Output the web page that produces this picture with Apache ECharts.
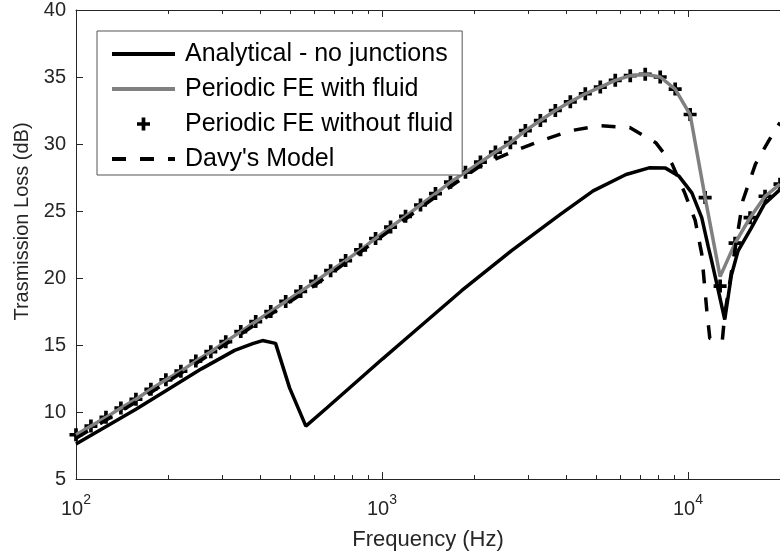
<!DOCTYPE html>
<html>
<head>
<meta charset="utf-8">
<script src="https://cdn.jsdelivr.net/npm/echarts@6/dist/echarts.min.js"></script>
<style>
  html, body { margin: 0; padding: 0; background: #fff; }
  #chart { width: 780px; height: 556px; }
</style>
</head>
<body>
<div id="chart"></div>
<script>
// frequency grid of the periodic FE results (Hz)
const feFreq = [100, 111.9, 125.3, 140.2, 157.0, 175.7, 196.7, 220.2, 246.4, 275.8,
  308.7, 345.6, 386.7, 433.0, 484.6, 542.4, 607.1, 679.6, 760.7, 851.5,
  953.1, 1066.9, 1194.2, 1336.7, 1496.2, 1674.8, 1874.7, 2098.4, 2348.9, 2629.2,
  2943.0, 3294.3, 3687.4, 4127.5, 4620.2, 5171.5, 5788.8, 6479.7, 7253.0, 8118.6,
  9087.5, 10169, 11385, 12743, 14264, 15966, 17872, 20000];
const feFluidTL = [8.3, 8.95, 9.6, 10.3, 10.95, 11.7, 12.4, 13.05, 13.8, 14.5,
  15.25, 16.0, 16.75, 17.5, 18.25, 19.0, 19.75, 20.55, 21.3, 22.1,
  22.95, 23.8, 24.6, 25.45, 26.3, 27.15, 27.9, 28.65, 29.4, 30.1,
  31.0, 31.75, 32.5, 33.15, 33.75, 34.25, 34.75, 35.1, 35.2, 35.0,
  34.1, 32.2, 26.0, 20.1, 22.6, 24.5, 26.1, 27.0];
const feDryTL = [8.3, 8.95, 9.6, 10.3, 10.95, 11.7, 12.4, 13.05, 13.8, 14.5,
  15.25, 16.0, 16.75, 17.5, 18.25, 19.0, 19.75, 20.55, 21.3, 22.1,
  22.95, 23.8, 24.6, 25.45, 26.3, 27.15, 27.9, 28.65, 29.4, 30.1,
  31.0, 31.75, 32.5, 33.15, 33.75, 34.25, 34.75, 35.1, 35.2, 35.0,
  34.1, 32.2, 26.0, 19.4, 22.6, 24.5, 26.1, 27.0];

const analyticalFreq = [100, 157, 201, 257, 330, 378, 407, 449, 499, 564,
  660, 1005, 1195, 1821, 2640, 3828, 4901, 6278, 7468, 8451,
  9333, 10302, 11097, 11665, 11951, 12562, 13196, 13870, 14574, 16087,
  17755, 20000];
const analyticalTL = [7.62, 10.2, 11.72, 13.22, 14.6, 15.1, 15.33, 15.12, 11.8, 8.95,
  10.3, 13.97, 15.45, 19.05, 22.0, 24.75, 26.5, 27.72, 28.22, 28.2,
  27.62, 26.35, 24.5, 22.3, 21.3, 19.1, 16.9, 20.2, 22.0, 23.7,
  25.5, 26.6];

const davyFreq = [100, 157, 246, 387, 607, 951, 1496, 2104, 2640, 3301,
  4128, 5162, 6455, 7852, 8882, 9784, 10563, 11097, 11527, 11792,
  12338, 12948, 13196, 14223, 15132, 16627, 18323, 20000];
const davyTL = [8.05, 10.75, 13.6, 16.55, 19.5, 22.75, 26.05, 28.4, 29.37, 30.24,
  30.99, 31.36, 31.23, 30.1, 28.5, 26.3, 24.3, 21.8, 17.6, 15.5,
  15.35, 15.25, 17.3, 22.0, 25.8, 28.5, 30.2, 31.6];

const seriesNames = ['Analytical - no junctions', 'Periodic FE with fluid',
  'Periodic FE without fluid', "Davy's Model"];

const xMajorTicks = [100, 1000, 10000];
const xMinorTicks = [200, 300, 400, 500, 600, 700, 800, 900,
  2000, 3000, 4000, 5000, 6000, 7000, 8000, 9000, 20000];

const zip = (xs, ys) => xs.map((x, i) => [x, ys[i]]);

const axisColor = '#262626';
const font = '"Liberation Sans", Arial, Helvetica, sans-serif';
const plusPath = 'path://M-1.7,-6H1.7V-1.7H6V1.7H1.7V6H-1.7V1.7H-6V-1.7H-1.7Z';

const baseX = { type: 'log', logBase: 10, min: 100, max: 20000, splitLine: { show: false } };

const chart = echarts.init(document.getElementById('chart'));

// line series get no dot in the legend, only their stroke
const legendData = seriesNames.map((name, i) =>
  i === 2 ? { name } : { name, itemStyle: { opacity: 0 } });

const option = {
  animation: false,
  textStyle: { fontFamily: font },
  grid: { left: 76, top: 9, right: -9, bottom: 77, containLabel: false },
  legend: {
    data: legendData,
    orient: 'vertical',
    left: 97,
    top: 31,
    padding: [8, 9, 1, 13],
    itemGap: 5,
    itemWidth: 63,
    itemHeight: 13,
    backgroundColor: '#fff',
    borderColor: '#555',
    borderWidth: 1,
    lineStyle: { width: 4 },
    textStyle: { fontSize: 25, color: '#000', fontFamily: font, lineHeight: 30, padding: [0, 0, 0, 5] }
  },
  xAxis: [
    {
      ...baseX,
      position: 'bottom',
      axisLine: { show: true, lineStyle: { color: axisColor, width: 1 } },
      axisTick: { show: true, inside: true, length: 7, customValues: xMajorTicks, lineStyle: { color: axisColor } },
      axisLabel: {
        customValues: xMajorTicks,
        margin: 14,
        color: axisColor,
        formatter: v => '{b|10}{s|' + Math.round(Math.log10(v)) + '}',
        rich: {
          b: { fontSize: 20, color: axisColor, fontFamily: font, verticalAlign: 'bottom', padding: [6, 0, 0, 0] },
          s: { fontSize: 14, color: axisColor, fontFamily: font, verticalAlign: 'top' }
        }
      },
      name: 'Frequency (Hz)',
      nameLocation: 'middle',
      nameGap: 50,
      nameTextStyle: { fontSize: 22, color: axisColor, fontFamily: font }
    },
    {
      ...baseX,
      position: 'bottom',
      axisLine: { show: false },
      axisTick: { show: true, inside: true, length: 4, customValues: xMinorTicks, lineStyle: { color: axisColor } },
      axisLabel: { show: false }
    },
    {
      ...baseX,
      position: 'top',
      axisLine: { show: true, lineStyle: { color: axisColor, width: 1 } },
      axisTick: { show: true, inside: true, length: 7, customValues: xMajorTicks, lineStyle: { color: axisColor } },
      axisLabel: { show: false }
    },
    {
      ...baseX,
      position: 'top',
      axisLine: { show: false },
      axisTick: { show: true, inside: true, length: 4, customValues: xMinorTicks, lineStyle: { color: axisColor } },
      axisLabel: { show: false }
    }
  ],
  yAxis: [{
    type: 'value',
    min: 5,
    max: 40,
    interval: 5,
    position: 'left',
    splitLine: { show: false },
    axisLine: { show: true, lineStyle: { color: axisColor, width: 1 } },
    axisTick: { show: true, inside: true, length: 7, lineStyle: { color: axisColor } },
    axisLabel: { fontSize: 20, color: axisColor, fontFamily: font, margin: 10 },
    name: 'Trasmission Loss (dB)',
    nameLocation: 'middle',
    nameGap: 37,
    nameTextStyle: { fontSize: 20, color: axisColor, fontFamily: font, padding: [0, 0, 0, 46] }
  }],
  series: [
    {
      name: seriesNames[0],
      type: 'line',
      data: zip(analyticalFreq, analyticalTL),
      symbol: 'none',
      lineStyle: { color: '#000', width: 3.5 },
      itemStyle: { color: '#000' }
    },
    {
      name: seriesNames[1],
      type: 'line',
      data: zip(feFreq, feFluidTL),
      symbol: 'none',
      lineStyle: { color: '#808080', width: 3.5 },
      itemStyle: { color: '#808080' }
    },
    {
      name: seriesNames[2],
      type: 'scatter',
      data: zip(feFreq, feDryTL),
      symbol: plusPath,
      symbolSize: 13,
      symbolKeepAspect: true,
      itemStyle: { color: '#000', opacity: 1 }
    },
    {
      name: seriesNames[3],
      type: 'line',
      data: zip(davyFreq, davyTL),
      symbol: 'none',
      lineStyle: { color: '#000', width: 3.5, type: [14, 14] },
      itemStyle: { color: '#000' }
    }
  ]
};

chart.setOption(option);
</script>
</body>
</html>
